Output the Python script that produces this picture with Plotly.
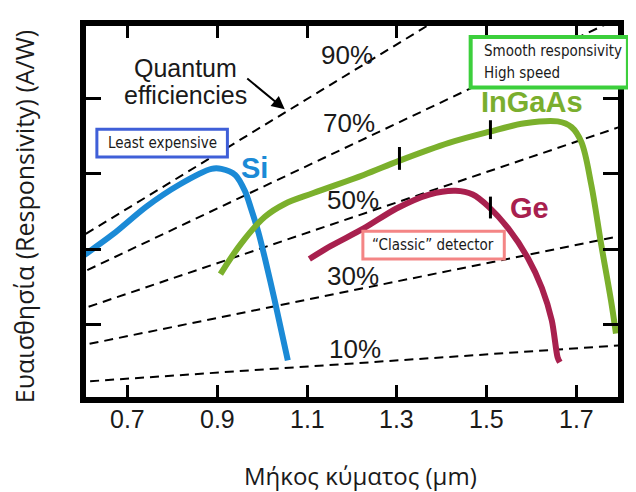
import plotly.graph_objects as go

# ---------------- data ----------------
si_wl = [0.601, 0.667, 0.742, 0.815, 0.887, 0.909, 0.940, 0.962, 0.975, 0.991, 1.006, 1.028, 1.057]
si_resp = [0.382, 0.439, 0.513, 0.571, 0.613, 0.613, 0.597, 0.553, 0.508, 0.447, 0.376, 0.263, 0.105]

ingaas_wl = [0.907, 0.953, 1.006, 1.050, 1.114, 1.226, 1.306, 1.416, 1.504, 1.585, 1.658, 1.689, 1.711, 1.733, 1.755, 1.777, 1.788]
ingaas_resp = [0.334, 0.415, 0.486, 0.520, 0.549, 0.597, 0.635, 0.682, 0.711, 0.734, 0.739, 0.724, 0.684, 0.571, 0.413, 0.263, 0.176]

ge_wl = [1.105, 1.152, 1.226, 1.299, 1.372, 1.431, 1.469, 1.504, 1.548, 1.592, 1.623, 1.645, 1.658, 1.663]
ge_resp = [0.374, 0.408, 0.455, 0.508, 0.545, 0.555, 0.545, 0.513, 0.455, 0.376, 0.297, 0.211, 0.113, 0.100]

qe_values = [0.1, 0.3, 0.5, 0.7, 0.9]
qe_labels = ["10%", "30%", "50%", "70%", "90%"]
qe_wl = [0.55, 1.85]

x_ticks = [0.7, 0.9, 1.1, 1.3, 1.5, 1.7]
x_ticklabels = ["0.7", "0.9", "1.1", "1.3", "1.5", "1.7"]
y_ticks = [0.2, 0.4, 0.6, 0.8]

# ---------------- layout geometry ----------------
# the page body adds an 8px margin; the figure is sized so that it fills the window
OFF = 8
FIG_W, FIG_H = 636 - OFF, 492 - OFF
L, T, PW, PH = 86, 23, 538, 374          # plot area in window pixels
ML, MT = L - OFF, T - OFF


def px(x, y):
    """window pixel -> paper coordinates"""
    return (x - L) / PW, (T + PH - y) / PH


fig = go.Figure()

# quantum-efficiency lines  R = eta * lambda / 1.24
for eta in qe_values:
    fig.add_trace(go.Scatter(
        x=qe_wl, y=[eta * w / 1.24 for w in qe_wl], mode="lines",
        line=dict(color="black", width=2, dash="9px,6px"),
        hoverinfo="skip", showlegend=False))

fig.add_trace(go.Scatter(x=si_wl, y=si_resp, mode="lines",
                         line=dict(color="#1b8ad6", width=6, shape="spline", smoothing=0.8),
                         showlegend=False))
fig.add_trace(go.Scatter(x=ge_wl, y=ge_resp, mode="lines",
                         line=dict(color="#a8204e", width=6, shape="spline", smoothing=0.8),
                         showlegend=False))
fig.add_trace(go.Scatter(x=ingaas_wl, y=ingaas_resp, mode="lines",
                         line=dict(color="#7bb02c", width=6, shape="spline", smoothing=1.0),
                         showlegend=False))

ann = []


def text_at(x, y, text, size, color="#1a1a1a", family="Liberation Sans", bold=False,
            xanchor="center"):
    xp, yp = px(x, y)
    t = "<b>%s</b>" % text if bold else text
    ann.append(dict(x=xp, y=yp, xref="paper", yref="paper", text=t, showarrow=False,
                    xanchor=xanchor, yanchor="middle",
                    font=dict(family=family, size=size, color=color)))


text_at(187, 65, "Quantum", 25)
text_at(187, 93, "efficiencies", 25)

# arrow
tx, ty = px(287, 107)
ann.append(dict(x=tx, y=ty, xref="paper", yref="paper", text="", showarrow=True,
                ax=248 - 287, ay=75 - 107, axref="pixel", ayref="pixel",
                arrowhead=2, arrowsize=1.3, arrowwidth=2, arrowcolor="black"))

qe_pos = {"90%": (350, 52), "70%": (352, 121), "50%": (356, 198), "30%": (356, 275), "10%": (358, 349)}
for lab in qe_labels:
    x, y = qe_pos[lab]
    text_at(x, y, lab, 26)

text_at(256, 166, "Si", 29, color="#1b8ad6", bold=True)
text_at(537, 100, "InGaAs", 29, color="#7aae2e", bold=True)
text_at(535, 206, "Ge", 29, color="#a8204e", bold=True)

BOXFONT = "DejaVu Sans Condensed"
text_at(163, 141, "Least expensive", 15, family=BOXFONT)
text_at(486, 48, "Smooth responsivity", 15, family=BOXFONT, xanchor="left")
text_at(486, 70, "High speed", 15, family=BOXFONT, xanchor="left")
text_at(437, 244, "\u201cClassic\u201d detector", 15, family=BOXFONT)

# x tick labels
_, ty = px(0, 419)
for v, lab in zip(x_ticks, x_ticklabels):
    ann.append(dict(x=v, y=ty, xref="x", yref="paper", text=lab, showarrow=False,
                    xanchor="center", yanchor="middle",
                    font=dict(family="Liberation Sans", size=25, color="#1a1a1a")))

# axis titles
xa, ya = px(24, 215)
ann.append(dict(x=xa, y=ya, xref="paper", yref="paper", showarrow=False, textangle=-90,
                text="Ευαισθησία (Responsivity) (A/W)", xanchor="center", yanchor="middle",
                font=dict(family="Open Sans", size=25, color="#1a1a1a")))
xa, ya = px(364, 476)
ann.append(dict(x=xa, y=ya, xref="paper", yref="paper", showarrow=False,
                text="Μήκος κύματος (μm)", xanchor="center", yanchor="middle",
                font=dict(family="Open Sans", size=24, color="#1a1a1a")))

shapes = []


def rect(x0, y0, x1, y1, color, w):
    a0, b0 = px(x0, y0)
    a1, b1 = px(x1, y1)
    shapes.append(dict(type="rect", xref="paper", yref="paper", x0=a0, y0=b1, x1=a1, y1=b0,
                       line=dict(color=color, width=w), fillcolor="white", layer="above"))


rect(97, 127, 229, 155, "#3f5fd8", 3)
rect(475, 34, 634, 85, "#3ccf3c", 4)
rect(366, 230, 509, 258, "#f48585", 3)


def seg(x, y0, y1):
    a, b0 = px(x, y0)
    _, b1 = px(x, y1)
    shapes.append(dict(type="line", xref="paper", yref="paper", x0=a, x1=a, y0=b0, y1=b1,
                       line=dict(color="black", width=3), layer="above"))


seg(403, 145, 168)
seg(495, 118, 137)
seg(495, 195, 217)

x0 = 0.7 + (L - 128) / 454
x1 = 0.7 + (L + PW - 128) / 454
y0 = (400 - (T + PH)) / 380
y1 = (400 - T) / 380

fig.update_layout(
    width=FIG_W, height=FIG_H,
    margin=dict(l=ML, r=FIG_W - ML - PW, t=MT, b=FIG_H - MT - PH),
    paper_bgcolor="white", plot_bgcolor="white",
    annotations=ann, shapes=shapes,
    xaxis=dict(range=[x0, x1], tickvals=x_ticks, showticklabels=False,
               ticks="inside", ticklen=12, tickwidth=3, tickcolor="black",
               showline=True, linewidth=6, linecolor="black", mirror="ticks",
               showgrid=False, zeroline=False),
    yaxis=dict(range=[y0, y1], tickvals=y_ticks, showticklabels=False,
               ticks="inside", ticklen=15, tickwidth=3, tickcolor="black",
               showline=True, linewidth=6, linecolor="black", mirror="ticks",
               showgrid=False, zeroline=False),
)

fig.write_html("out.html")
